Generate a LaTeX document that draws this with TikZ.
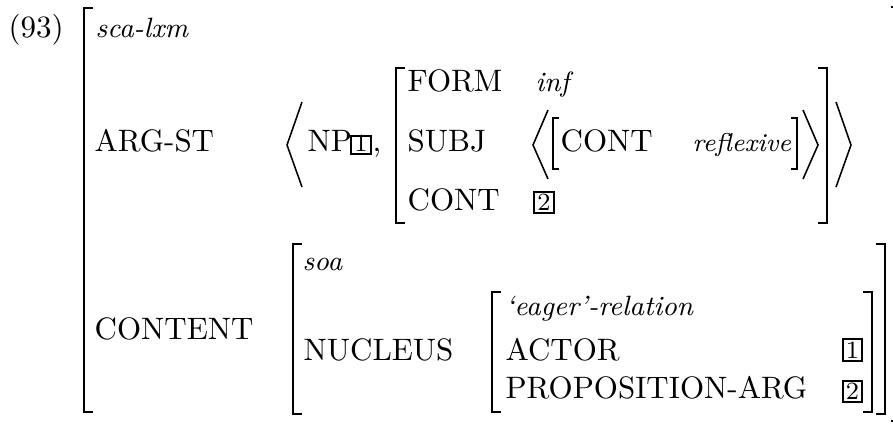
\documentclass[tikz,border=0pt]{standalone}
\begin{document}
\begin{tikzpicture}[x=0.32258pt,y=-0.32258pt,
  lbl/.style={anchor=base west,inner sep=0pt,font=\fontsize{10}{12}\selectfont},
  typ/.style={anchor=base west,inner sep=0pt,font=\fontsize{9}{11}\selectfont\itshape},
  brk/.style={line width=0.8pt,line join=miter},
  ang/.style={line width=0.5pt,line join=miter},
  tagbox/.style={draw,line width=0.6pt},
  tagnum/.style={anchor=base,inner sep=0pt,font=\fontsize{8}{9}\selectfont}
]
\useasboundingbox (0,0) rectangle (893,425);

% left and right square brackets: x, top, bottom, hook length
\def\lbr#1#2#3#4{\draw[brk] (#1+#4,#2) -- (#1,#2) -- (#1,#3) -- (#1+#4,#3);}
\def\rbr#1#2#3#4{\draw[brk] (#1-#4,#2) -- (#1,#2) -- (#1,#3) -- (#1-#4,#3);}
% boxed tag: name, left, top, right, bottom, number
\def\tagat#1#2#3#4#5#6{\draw[tagbox] (#2,#3) rectangle (#4,#5);
  \node[tagnum] (#1) at ({(#2+#4)/2},{#5-2.5}) {#6};}

% example number and outer matrix
\node[lbl] (num) at (8,37) {(93)};
\lbr{84}{8}{412}{9}
\rbr{900}{7}{421}{9}
\node[typ] (sca) at (95,37) {sca-lxm};

% ARG-ST
\node[lbl] (argst) at (94,151) {ARG-ST};
\draw[ang] (302,102) -- (287,145) -- (302,187);
\node[lbl] (np) at (307,151) {NP};
\tagat{npt}{351}{136}{371}{154}{1}
\node[lbl] (comma) at (372,151) {,};

\lbr{396}{68}{223}{9}
\node[lbl] (form) at (407,91) {FORM};
\node[typ] (inf) at (535,91) {inf};
\node[lbl] (subj) at (407,151) {SUBJ};
\draw[ang] (548,110) -- (533,145) -- (548,179);
\lbr{553}{118}{169}{6}
\node[lbl] (scont) at (560,151) {CONT};
\node[typ,font=\fontsize{8.3}{10}\selectfont\itshape] (refl) at (692,151) {reflexive};
\rbr{797}{118}{169}{6}
\draw[ang] (803,110) -- (818,145) -- (803,179);
\node[lbl] (cont) at (407,210) {CONT};
\tagat{ct}{534}{192}{554}{213}{2}
\rbr{827}{68}{223}{9}
\draw[ang] (836,102) -- (851,145) -- (836,187);

% CONTENT
\node[lbl] (content) at (94,339) {CONTENT};
\lbr{293}{244}{414}{9}
\node[typ] (soa) at (302,270) {soa};
\node[lbl] (nucleus) at (303,360) {NUCLEUS};
\lbr{492}{292}{412}{9}
\node[typ] (rel) at (505,315) {`eager'-relation};
\node[lbl] (actor) at (505,360) {ACTOR};
\tagat{at}{843}{339}{862}{361}{1}
\node[lbl] (proparg) at (505,398) {PROPOSITION-ARG};
\tagat{pt}{843}{381}{862}{402}{2}
\rbr{872}{292}{412}{9}
\rbr{885}{244}{414}{9}
\end{tikzpicture}
\end{document}
